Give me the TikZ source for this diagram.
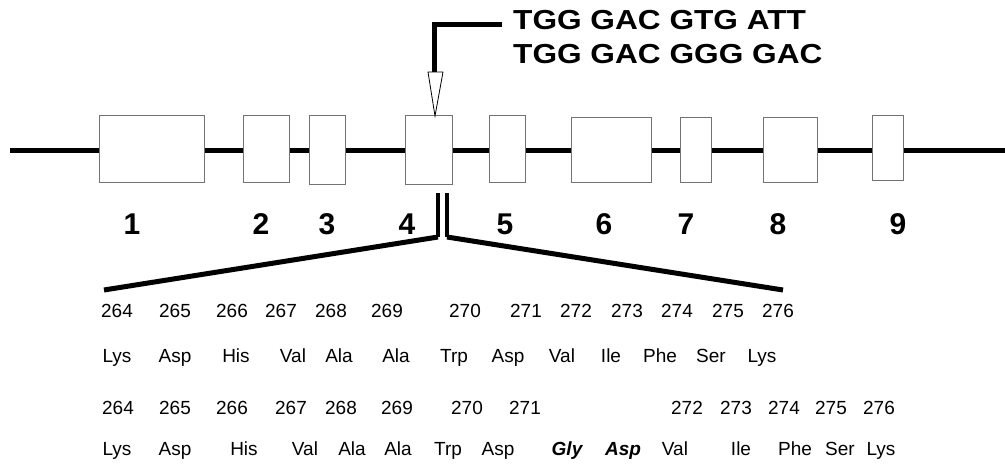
\documentclass[tikz,border=0pt]{standalone}
\usepackage{fontspec}
\setmainfont{Liberation Sans}
\newfontfamily\seqfont{Liberation Sans}[FakeStretch=1.15]
\begin{document}
\begin{tikzpicture}[x=1pt,y=-1pt,
  exon/.style={draw=black!55, line width=0.9pt, fill=white, inner sep=0pt},
  bar/.style={line width=5pt},
  dbar/.style={line width=4pt},
  num/.style={font=\fontsize{19}{19}\selectfont, anchor=base, inner sep=0pt},
  lab/.style={font=\bfseries\fontsize{30}{30}\selectfont, inner sep=0pt},
  seq/.style={font=\seqfont\bfseries\fontsize{27.5}{27.5}\selectfont, anchor=base west, inner sep=0pt},
  mut/.style={font=\bfseries\itshape\fontsize{19}{19}\selectfont, anchor=base, inner sep=0pt}]
\useasboundingbox (0,0) rectangle (1005,464);
% main line
\coordinate (L) at (10,150);
\coordinate (R) at (1005,150);
\draw[bar] (L) -- (R);
% exons
\node[exon, minimum width=105pt, minimum height=67pt] (e1) at (151.5,148.5) {};
\node[exon, minimum width=46pt, minimum height=67pt] (e2) at (266,148.5) {};
\node[exon, minimum width=36pt, minimum height=69pt] (e3) at (327,149.5) {};
\node[exon, minimum width=47pt, minimum height=69pt] (e4) at (428.5,149.5) {};
\node[exon, minimum width=36pt, minimum height=67pt] (e5) at (507,148.5) {};
\node[exon, minimum width=80pt, minimum height=65pt] (e6) at (611,149.5) {};
\node[exon, minimum width=31pt, minimum height=65pt] (e7) at (695.5,149.5) {};
\node[exon, minimum width=54pt, minimum height=65pt] (e8) at (790,149.5) {};
\node[exon, minimum width=31pt, minimum height=65pt] (e9) at (887.5,147.5) {};
% exon labels
\foreach \x/\t in {132/1,261/2,327/3,407/4,505/5,604/6,686/7,778/8,898/9}
  \node[lab] (l\t) at (\x,224) {\t};
% sequence text and leader
\node[seq] (s1) at (513,29) {TGG GAC GTG ATT};
\node[seq] (s2) at (513,63) {TGG GAC GGG GAC};
\coordinate (h1) at (502,24.5);
\coordinate (h2) at (434.5,24.5);
\coordinate (h3) at (434.5,72);
\draw[bar] (h1) -- (h2) -- (h3);
\coordinate (t1) at (428,72);
\coordinate (t2) at (443,72);
\coordinate (t3) at (435,116);
\draw[fill=white, line width=0.8pt, line join=miter] (t1) -- (t2) -- (t3) -- cycle;
% zoom lines
\coordinate (v1t) at (438,193);
\coordinate (v1b) at (438,237);
\coordinate (v2t) at (447,193);
\coordinate (v2b) at (447,237);
\coordinate (dl) at (104,290);
\coordinate (dr) at (783,290);
\draw[dbar] (v1t) -- (v1b);
\draw[dbar] (v2t) -- (v2b);
\draw[bar] (v1b) -- (dl);
\draw[bar] (v2b) -- (dr);
% row 1
\foreach \x/\t [count=\i] in {117/264,175/265,232/266,281/267,331/268,387/269,465/270,526/271,576/272,627/273,677/274,728/275,778/276}
  \node[num] (a\i) at (\x,317) {\t};
% row 2
\foreach \x/\t [count=\i] in {117/Lys,175/Asp,236/His,293/Val,339/Ala,396/Ala,454/Trp,508/Asp,562/Val,611/Ile,660/Phe,711/Ser,762/Lys}
  \node[num] (b\i) at (\x,362) {\t};
% row 3
\foreach \x/\t [count=\i] in {118/264,175/265,232/266,291/267,341/268,397/269,467/270,525/271,687/272,736/273,784/274,831/275,879/276}
  \node[num] (c\i) at (\x,414) {\t};
% row 4
\foreach \x/\t [count=\i] in {117/Lys,175/Asp,244/His,305/Val,352/Ala,398/Ala,448/Trp,498/Asp,675/Val,741/Ile,795/Phe,840/Ser,881/Lys}
  \node[num] (d\i) at (\x,455) {\t};
\node[mut] (g1) at (567,455) {Gly};
\node[mut] (g2) at (623,455) {Asp};
\end{tikzpicture}
\end{document}
